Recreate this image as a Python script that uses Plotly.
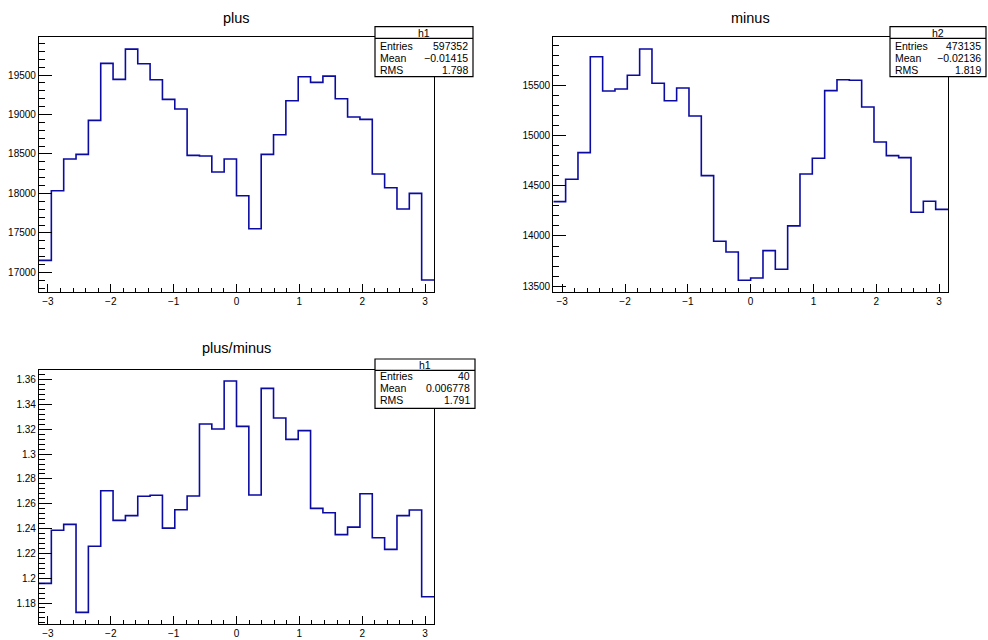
import numpy as np
import plotly.graph_objects as go

# ---------------- data ----------------
plus_counts = [17152, 18035, 18436, 18495, 18926, 19648, 19445, 19829,
               19644, 19441, 19192, 19069, 18482, 18474, 18271, 18436,
               17971, 17553, 18495, 18744, 19175, 19479, 19407, 19487,
               19200, 18968, 18938, 18246, 18073, 17802, 18001, 16903]
minus_counts = [14342, 14564, 14830, 15785, 15444, 15463, 15600, 15862,
                15520, 15347, 15473, 15195, 14601, 13947, 13841, 13559,
                13582, 13854, 13668, 14100, 14617, 14773, 15447, 15556,
                15550, 15284, 14936, 14800, 14780, 14236, 14345, 14265]
ratio_values = [1.1958, 1.2386, 1.2434, 1.1725, 1.2257, 1.2705, 1.2466, 1.2504,
                1.2660, 1.2668, 1.2404, 1.2552, 1.2662, 1.3243, 1.3202, 1.3589,
                1.3224, 1.2670, 1.3530, 1.3291, 1.3119, 1.3189, 1.2563, 1.2528,
                1.2351, 1.2412, 1.2681, 1.2326, 1.2232, 1.2504, 1.2550, 1.1851]

n_bins = 32
x_low, x_high = -np.pi, np.pi

x_tick_vals = [-3, -2, -1, 0, 1, 2, 3]
x_tick_text = ["\u22123", "\u22122", "\u22121", "0", "1", "2", "3"]
y1_tick_vals = [17000, 17500, 18000, 18500, 19000, 19500]
y1_tick_text = ["17000", "17500", "18000", "18500", "19000", "19500"]
y2_tick_vals = [13500, 14000, 14500, 15000, 15500]
y2_tick_text = ["13500", "14000", "14500", "15000", "15500"]
y3_tick_vals = [1.18, 1.20, 1.22, 1.24, 1.26, 1.28, 1.30, 1.32, 1.34, 1.36]
y3_tick_text = ["1.18", "1.2", "1.22", "1.24", "1.26", "1.28", "1.3", "1.32", "1.34", "1.36"]

titles = ["plus", "minus", "plus/minus"]
stats = [
    ("h1", [("Entries", "597352"), ("Mean", "\u22120.01415"), ("RMS", "1.798")]),
    ("h2", [("Entries", "473135"), ("Mean", "\u22120.02136"), ("RMS", "1.819")]),
    ("h1", [("Entries", "40"), ("Mean", "0.006778"), ("RMS", "1.791")]),
]

# ---------------- layout helpers ----------------
W, H = 988, 640
FONT = "Liberation Sans, Arial, Helvetica, sans-serif"
LINE_COLOR = "#0b0ba2"


def px(x):
    return x / W


def py(y):
    return 1 - y / H


edges = np.linspace(x_low, x_high, n_bins + 1)


def step_xy(vals):
    return list(edges), list(vals) + [vals[-1]]


# frames in pixel coords: (left, right, top, bottom)
frames = [(39, 434, 36.7, 291.7), (553.3, 948, 36.7, 291.7), (39, 434, 369.5, 624)]
y_ranges = [[16755, 19986], [13445, 15984], [1.1631, 1.3682]]
y_ticks = [(y1_tick_vals, y1_tick_text, 100), (y2_tick_vals, y2_tick_text, 100),
           (y3_tick_vals, y3_tick_text, 0.004)]
series = [plus_counts, minus_counts, ratio_values]

fig = go.Figure()
layout = dict(width=W, height=H, margin=dict(l=0, r=0, t=0, b=0),
              paper_bgcolor="white", plot_bgcolor="white", showlegend=False,
              font=dict(family=FONT, color="black", size=10))

for i in range(3):
    sfx = "" if i == 0 else str(i + 1)
    xs, ys = step_xy(series[i])
    fig.add_trace(go.Scatter(x=xs, y=ys, mode="lines", line_shape="hv",
                             line=dict(color=LINE_COLOR, width=1.6),
                             xaxis="x" + sfx, yaxis="y" + sfx, hoverinfo="skip"))
    l, r, t, b = frames[i]
    common = dict(showline=True, mirror=True, linecolor="black", linewidth=1.2,
                  ticks="inside", tickcolor="black", tickwidth=1,
                  showgrid=False, zeroline=False, fixedrange=True,
                  tickfont=dict(family=FONT, size=10, color="black"))
    layout["xaxis" + sfx] = dict(common, domain=[px(l), px(r)], range=[x_low, x_high],
                                 anchor="y" + sfx, tickmode="array",
                                 tickvals=x_tick_vals, ticktext=x_tick_text, ticklen=7.5,
                                 minor=dict(ticks="inside", ticklen=3.5, tickwidth=1,
                                            tickcolor="black", tick0=0, dtick=0.2,
                                            showgrid=False))
    tv, tt, mdt = y_ticks[i]
    layout["yaxis" + sfx] = dict(common, domain=[py(b), py(t)], range=y_ranges[i],
                                 anchor="x" + sfx, tickmode="array",
                                 tickvals=tv, ticktext=tt, ticklen=12.5,
                                 minor=dict(ticks="inside", ticklen=6, tickwidth=1,
                                            tickcolor="black", tick0=0, dtick=mdt,
                                            showgrid=False))

shapes = []
annotations = []

title_pos = [(236.5, 17.5), (750.5, 17.5), (236.5, 348)]
for (tx, ty), txt in zip(title_pos, titles):
    annotations.append(dict(x=px(tx), y=py(ty), xref="paper", yref="paper", text=txt,
                            showarrow=False, xanchor="center", yanchor="middle",
                            font=dict(family=FONT, size=14.5, color="black")))

# stats boxes: (left, right, top, sep, bottom, row centres)
boxes = [
    (375, 473, 26.7, 38.3, 76.7, 32.5, [46.5, 58.2, 69.8]),
    (890, 986, 26.7, 38.3, 76.7, 32.5, [46.5, 58.2, 69.8]),
    (375, 475, 359, 370.3, 408.3, 364.6, [376.0, 388.0, 399.8]),
]
for (l, r, t, sep, b, tyc, rows), (name, entries) in zip(boxes, stats):
    shapes.append(dict(type="rect", xref="paper", yref="paper", x0=px(l), x1=px(r),
                       y0=py(b), y1=py(t), fillcolor="white",
                       line=dict(color="black", width=1.2), layer="above"))
    shapes.append(dict(type="line", xref="paper", yref="paper", x0=px(l), x1=px(r),
                       y0=py(sep), y1=py(sep), line=dict(color="black", width=1.2),
                       layer="above"))
    annotations.append(dict(x=px((l + r) / 2), y=py(tyc), xref="paper", yref="paper",
                            text=name, showarrow=False, xanchor="center", yanchor="middle",
                            font=dict(family=FONT, size=10.5, color="black")))
    for (lab, val), ry in zip(entries, rows):
        annotations.append(dict(x=px(l + 3), y=py(ry), xref="paper", yref="paper",
                                text=lab, showarrow=False, xanchor="left", yanchor="middle",
                                xshift=0, font=dict(family=FONT, size=10.5, color="black")))
        annotations.append(dict(x=px(r - 3), y=py(ry), xref="paper", yref="paper",
                                text=val, showarrow=False, xanchor="right", yanchor="middle",
                                font=dict(family=FONT, size=10.5, color="black")))

layout["shapes"] = shapes
layout["annotations"] = annotations
fig.update_layout(**layout)
fig.write_html("out.html")
